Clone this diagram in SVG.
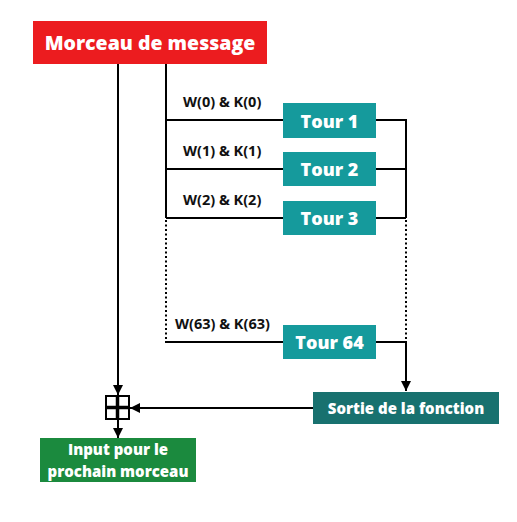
<svg xmlns="http://www.w3.org/2000/svg" width="517" height="522" viewBox="0 0 517 522">
<defs>
<style>
.t{font-family:"Open Sans","Noto Sans","Liberation Sans",sans-serif;font-weight:800;fill:#fff;text-anchor:middle}
.lbl{font-family:"Open Sans","Noto Sans","Liberation Sans",sans-serif;font-weight:700;font-size:14.5px;fill:#111}
.ln{stroke:#000;stroke-width:2;fill:none}
.dot{stroke:#000;stroke-width:2;fill:none;stroke-dasharray:2 2.5}
.tour{fill:#159a9c}
</style>
<marker id="ah" viewBox="0 0 10 10" refX="10" refY="5" markerWidth="5" markerHeight="5" markerUnits="strokeWidth" orient="auto">
<path d="M0,0 L10,5 L0,10 Z" fill="#000"/>
</marker>
</defs>
<rect width="517" height="522" fill="#fff"/>
<g id="connectors">
<line class="ln" x1="118" y1="64" x2="118" y2="395" marker-end="url(#ah)"/>
<polyline class="ln" points="166,64 166,218"/>
<line class="dot" x1="166" y1="220" x2="166" y2="340"/>
<line class="ln" x1="166" y1="120" x2="283" y2="120"/>
<line class="ln" x1="166" y1="169" x2="283" y2="169"/>
<line class="ln" x1="166" y1="218" x2="283" y2="218"/>
<line class="ln" x1="165" y1="342" x2="283" y2="342"/>
<polyline class="ln" points="376,120 406,120 406,218"/>
<line class="ln" x1="376" y1="169" x2="406" y2="169"/>
<line class="ln" x1="376" y1="218" x2="406" y2="218"/>
<line class="dot" x1="406" y1="220" x2="406" y2="340"/>
<polyline class="ln" points="376,342 406,342 406,391"/>
<line class="ln" x1="406" y1="380" x2="406" y2="391" marker-end="url(#ah)"/>
<line class="ln" x1="313" y1="408" x2="130" y2="408" marker-end="url(#ah)"/>
<line class="ln" x1="118" y1="419" x2="118" y2="438" marker-end="url(#ah)"/>
</g>
<g id="plus">
<rect x="106" y="396" width="23" height="23" fill="#fff" stroke="#000" stroke-width="2"/>
<line x1="117.5" y1="396" x2="117.5" y2="419" stroke="#000" stroke-width="3.5"/>
<line x1="106" y1="407.5" x2="129" y2="407.5" stroke="#000" stroke-width="3.5"/>
</g>
<g id="morceau">
<rect x="33" y="21" width="234" height="43" fill="#ec1c1f"/>
<text class="t" x="150" y="50" font-size="19.5">Morceau de message</text>
</g>
<g id="labels">
<text class="lbl" x="183" y="107">W(0) &amp; K(0)</text>
<text class="lbl" x="183" y="156">W(1) &amp; K(1)</text>
<text class="lbl" x="183" y="205">W(2) &amp; K(2)</text>
<text class="lbl" x="175" y="329">W(63) &amp; K(63)</text>
</g>
<g id="tour1">
<rect class="tour" x="283" y="103" width="93" height="35"/>
<text class="t" x="329.5" y="127.5" font-size="18">Tour 1</text>
</g>
<g id="tour2">
<rect class="tour" x="283" y="152" width="93" height="34"/>
<text class="t" x="329.5" y="176" font-size="18">Tour 2</text>
</g>
<g id="tour3">
<rect class="tour" x="283" y="201" width="93" height="34"/>
<text class="t" x="329.5" y="225" font-size="18">Tour 3</text>
</g>
<g id="tour64">
<rect class="tour" x="283" y="325" width="93" height="34"/>
<text class="t" x="329.5" y="349" font-size="18">Tour 64</text>
</g>
<g id="sortie">
<rect x="313" y="392" width="186" height="32" fill="#18716f"/>
<text class="t" x="406" y="413.5" font-size="15">Sortie de la fonction</text>
</g>
<g id="input">
<rect x="40" y="438" width="156" height="44" fill="#1b8a3e"/>
<text class="t" x="118" y="455" font-size="15">Input pour le</text>
<text class="t" x="118" y="476.5" font-size="15">prochain morceau</text>
</g>
</svg>
